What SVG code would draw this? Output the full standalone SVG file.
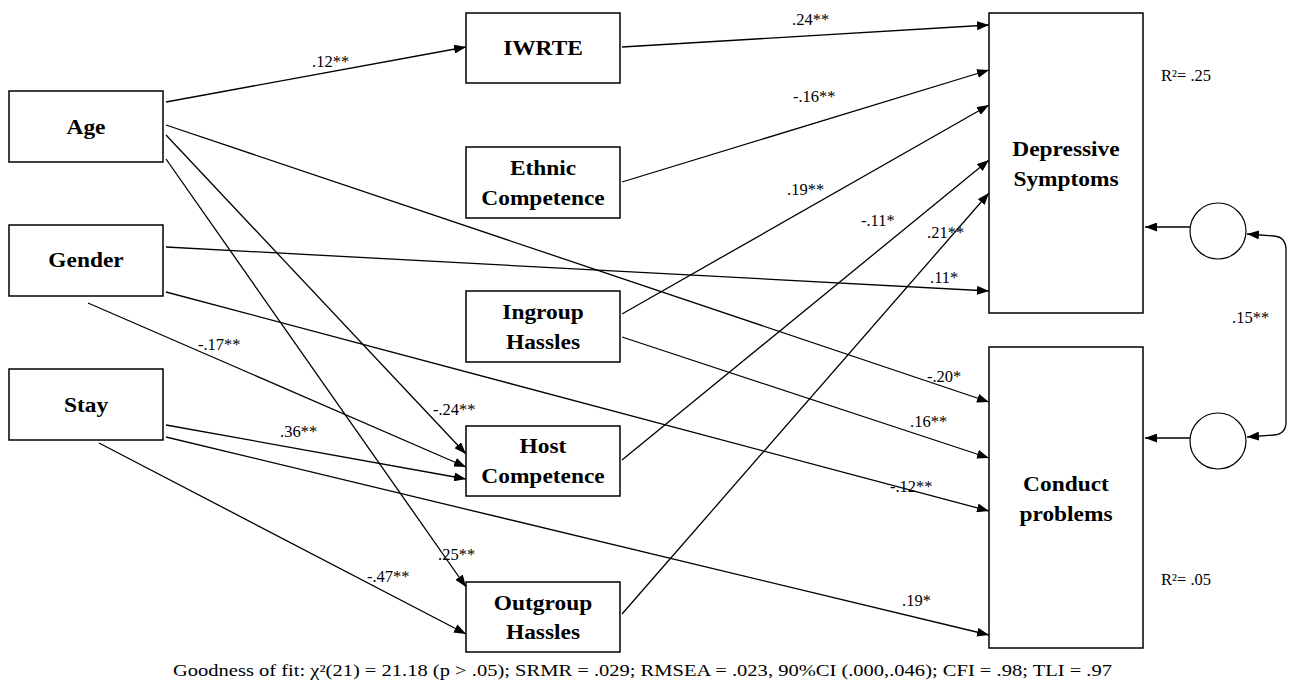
<svg xmlns="http://www.w3.org/2000/svg" width="1289" height="684" viewBox="0 0 1289 684">
<defs>
<marker id="ah" viewBox="0 0 12 9" refX="12" refY="4.5" markerWidth="12" markerHeight="9" markerUnits="userSpaceOnUse" orient="auto-start-reverse">
<path d="M0,0 L12,4.5 L0,9 z" fill="#000"/>
</marker>
<style>
.box{fill:#fff;stroke:#000;stroke-width:1.5}
.circ{fill:#fff;stroke:#000;stroke-width:1.2}
.bt{font-family:"Liberation Serif","Times New Roman",serif;font-weight:bold;font-size:20px;text-anchor:middle;fill:#000}
.lab{font-family:"Liberation Serif","Times New Roman",serif;font-size:16.5px;fill:#000}
.ft{font-family:"Liberation Serif","Times New Roman",serif;font-size:16.5px;fill:#000}
.conn line,.conn path{stroke:#000;stroke-width:1.3;fill:none;marker-end:url(#ah)}
.conn .cov{marker-start:url(#ah)}
</style>
</defs>
<rect width="1289" height="684" fill="#fff"/>

<g id="connectors" class="conn">
<line x1="166" y1="102" x2="466" y2="47"/>
<line x1="622" y1="47" x2="989" y2="25"/>
<line x1="622" y1="182" x2="989" y2="70"/>
<line x1="622" y1="314" x2="989" y2="105"/>
<line x1="622" y1="460" x2="989" y2="160"/>
<line x1="622" y1="614" x2="989" y2="193"/>
<line x1="166" y1="247" x2="989" y2="291"/>
<line x1="166" y1="125" x2="989" y2="402"/>
<line x1="622" y1="337" x2="989" y2="458"/>
<line x1="166" y1="292" x2="989" y2="511"/>
<line x1="166" y1="437" x2="989" y2="635"/>
<line x1="166" y1="135" x2="466" y2="454"/>
<line x1="88" y1="303" x2="466" y2="467"/>
<line x1="166" y1="425" x2="466" y2="479"/>
<line x1="166" y1="159" x2="466" y2="587"/>
<line x1="99" y1="443" x2="466" y2="634"/>
<line x1="1190" y1="227" x2="1145" y2="227"/>
<line x1="1190" y1="438" x2="1145" y2="438"/>
<path class="cov" d="M1247,234 L1274,236 Q1286,237 1286,250 L1286,422 Q1286,434 1274,435 L1247,437"/>
</g>

<g id="labels" class="lab">
<text x="312" y="67">.12**</text>
<text x="792" y="25">.24**</text>
<text x="793" y="102">-.16**</text>
<text x="787" y="195">.19**</text>
<text x="861" y="226">-.11*</text>
<text x="927" y="238">.21**</text>
<text x="930" y="283">.11*</text>
<text x="927" y="382">-.20*</text>
<text x="910" y="427">.16**</text>
<text x="890" y="492">-.12**</text>
<text x="902" y="606">.19*</text>
<text x="198" y="350">-.17**</text>
<text x="433" y="415">-.24**</text>
<text x="280" y="437">.36**</text>
<text x="438" y="560">.25**</text>
<text x="367" y="582">-.47**</text>
<text x="1232" y="323">.15**</text>
<text x="1161" y="81">R²= .25</text>
<text x="1161" y="585">R²= .05</text>
</g>

<g id="age"><rect class="box" x="9" y="91" width="154" height="71"/><text class="bt" transform="translate(86,134) scale(1.17,1)">Age</text></g>
<g id="gender"><rect class="box" x="9" y="225" width="154" height="71"/><text class="bt" transform="translate(86,267) scale(1.17,1)">Gender</text></g>
<g id="stay"><rect class="box" x="9" y="369" width="154" height="71"/><text class="bt" transform="translate(86,412) scale(1.17,1)">Stay</text></g>
<g id="iwrte"><rect class="box" x="466" y="13" width="154" height="70"/><text class="bt" transform="translate(543,55) scale(1.17,1)">IWRTE</text></g>
<g id="ethnic"><rect class="box" x="466" y="147" width="154" height="71"/><text class="bt" transform="translate(543,175) scale(1.17,1)">Ethnic</text><text class="bt" transform="translate(543,205) scale(1.17,1)">Competence</text></g>
<g id="ingroup"><rect class="box" x="466" y="291" width="154" height="71"/><text class="bt" transform="translate(543,319) scale(1.17,1)">Ingroup</text><text class="bt" transform="translate(543,349) scale(1.17,1)">Hassles</text></g>
<g id="host"><rect class="box" x="466" y="426" width="154" height="70"/><text class="bt" transform="translate(543,453) scale(1.17,1)">Host</text><text class="bt" transform="translate(543,483) scale(1.17,1)">Competence</text></g>
<g id="outgroup"><rect class="box" x="466" y="582" width="154" height="70"/><text class="bt" transform="translate(543,610) scale(1.17,1)">Outgroup</text><text class="bt" transform="translate(543,639) scale(1.17,1)">Hassles</text></g>
<g id="depressive"><rect class="box" x="989" y="13" width="154" height="300"/><text class="bt" transform="translate(1066,156) scale(1.17,1)">Depressive</text><text class="bt" transform="translate(1066,186) scale(1.17,1)">Symptoms</text></g>
<g id="conduct"><rect class="box" x="989" y="347" width="154" height="301"/><text class="bt" transform="translate(1066,491) scale(1.17,1)">Conduct</text><text class="bt" transform="translate(1066,521) scale(1.17,1)">problems</text></g>
<g id="e1"><ellipse class="circ" cx="1218" cy="231" rx="28" ry="28"/></g>
<g id="e2"><ellipse class="circ" cx="1218" cy="441" rx="28" ry="28"/></g>

<text class="ft" x="173" y="676" textLength="939" lengthAdjust="spacingAndGlyphs">Goodness of fit: χ²(21) = 21.18 (p &gt; .05); SRMR = .029; RMSEA = .023, 90%CI (.000,.046); CFI = .98; TLI = .97</text>
</svg>
